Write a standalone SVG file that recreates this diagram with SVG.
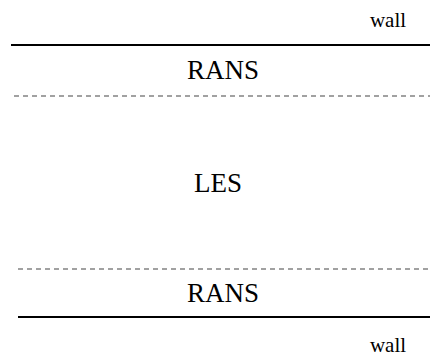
<svg xmlns="http://www.w3.org/2000/svg" width="430" height="358" viewBox="0 0 430 358">
<style>
text{font-family:"Liberation Serif","Times New Roman","DejaVu Serif",serif;fill:#000}
.big{font-size:27px}
.sm{font-size:21px}
.wall{stroke:#000;stroke-width:2.2;fill:none}
.iface{stroke:#444;stroke-width:1.1;stroke-dasharray:5 4;fill:none}
</style>
<rect width="430" height="358" fill="#fff"/>
<g id="connectors">
<line class="wall" x1="11" y1="45" x2="430" y2="45"/>
<line class="iface" x1="14" y1="96" x2="430" y2="96"/>
<line class="iface" x1="18" y1="269" x2="430" y2="269"/>
<line class="wall" x1="18" y1="317" x2="430" y2="317"/>
</g>
<g id="wall-top"><text class="sm" x="388" y="27" text-anchor="middle" font-family="Liberation Serif, serif">wall</text></g>
<g id="rans-top"><text class="big" x="223" y="79" text-anchor="middle" font-family="Liberation Serif, serif">RANS</text></g>
<g id="les"><text class="big" x="218" y="192" text-anchor="middle" font-family="Liberation Serif, serif">LES</text></g>
<g id="rans-bottom"><text class="big" x="223" y="302" text-anchor="middle" font-family="Liberation Serif, serif">RANS</text></g>
<g id="wall-bottom"><text class="sm" x="388" y="352" text-anchor="middle" font-family="Liberation Serif, serif">wall</text></g>
</svg>
